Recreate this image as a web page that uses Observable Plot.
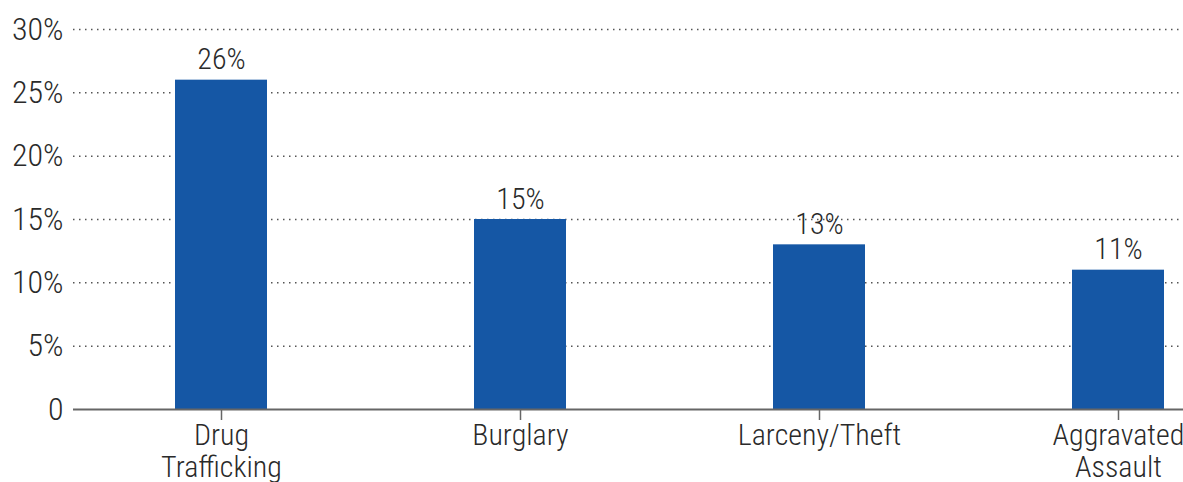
<!DOCTYPE html>
<html>
<head>
<meta charset="utf-8">
<script src="https://cdn.jsdelivr.net/npm/d3@7"></script>
<script src="https://cdn.jsdelivr.net/npm/@observablehq/plot@0.6"></script>
<style>
  html, body { margin: 0; padding: 0; background: #fff; }
  #chart svg { display: block; }
</style>
</head>
<body>
<div id="chart"></div>
<script>
const categories = ["Drug\nTrafficking", "Burglary", "Larceny/Theft", "Aggravated\nAssault"];
const values = [26, 15, 13, 11];
const yTicks = [0, 5, 10, 15, 20, 25, 30];

const data = categories.map((c, i) => ({category: c, value: values[i]}));
const font = "'Roboto Condensed', 'Liberation Sans Narrow', 'Arial Narrow', Roboto, sans-serif";

const chart = Plot.plot({
  width: 1183,
  height: 482,
  marginLeft: 73,
  marginRight: 0,
  marginTop: 29,
  marginBottom: 73,
  style: {fontFamily: font, color: "#333", background: "#fff"},
  x: {domain: categories, range: [71.5, 1267.5], paddingInner: 0.692, paddingOuter: 0.346, align: 0.5},
  y: {domain: [0, 30]},
  marks: [
    Plot.ruleY(yTicks.filter(d => d > 0), {stroke: "#555", strokeWidth: 1.5, strokeDasharray: "1.5,4.5"}),
    Plot.barY(data, {x: "category", y: "value", fill: "#1557a5"}),
    Plot.ruleY([0], {stroke: "#666", strokeWidth: 2}),
    Plot.text(data, {x: "category", y: "value", text: d => d.value + "%", dy: -11, lineAnchor: "bottom", fontSize: 30, fontWeight: 300, fill: "#2a2a2a"}),
    Plot.axisY({ticks: yTicks, tickFormat: d => d === 0 ? "0" : d + "%", tickSize: 0, tickPadding: 10, fontSize: 32, fontWeight: 300, fill: "#2a2a2a", label: null}),
    Plot.axisX({tickSize: 11, tickPadding: 2, fontSize: 30, fontWeight: 300, fill: "#2a2a2a", stroke: "#666", strokeWidth: 1.5, label: null, lineHeight: 1.07})
  ]
});
document.getElementById("chart").appendChild(chart);
</script>
</body>
</html>
